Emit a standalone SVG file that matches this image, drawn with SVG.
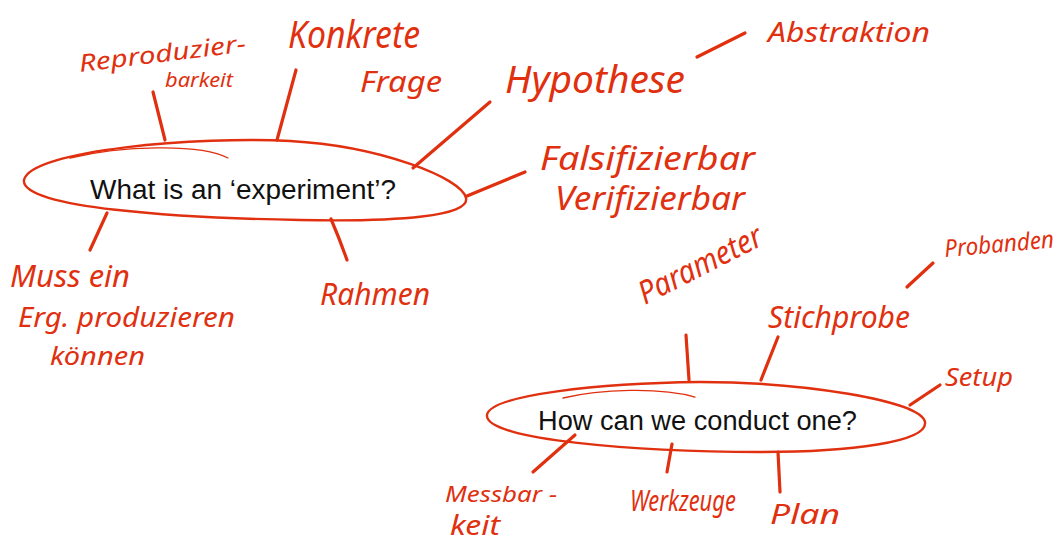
<svg xmlns="http://www.w3.org/2000/svg" width="1061" height="542" viewBox="0 0 1061 542">
<style>
.bg{fill:#ffffff}
.shape{fill:none;stroke:#e0300f;stroke-width:2.4;stroke-linecap:round}
.thin{fill:none;stroke:#e0300f;stroke-width:1.3;stroke-linecap:round}
.conn{fill:none;stroke:#e0300f;stroke-width:3.2;stroke-linecap:round}
.node{font-family:"Liberation Sans","DejaVu Sans",sans-serif;fill:#111111}
.hw{font-family:"Noto Sans","Liberation Sans",sans-serif;font-style:italic;fill:#e0300f}
</style>
<rect class="bg" x="0" y="0" width="1061" height="542"/>
<g id="connectors">
<path class="conn" d="M153 92 L165 140"/>
<path class="conn" d="M296 70 L277 140"/>
<path class="conn" d="M490 102 L413 168"/>
<path class="conn" d="M525 172 L467 196"/>
<path class="conn" d="M697 57 L745 33"/>
<path class="conn" d="M107 213 L90 250"/>
<path class="conn" d="M331 219 Q340 240 347 260"/>
<path class="conn" d="M686 335 L689 380"/>
<path class="conn" d="M778 337 L761 380"/>
<path class="conn" d="M907 287 L933 263"/>
<path class="conn" d="M910 405 L940 385"/>
<path class="conn" d="M575 435 L533 472"/>
<path class="conn" d="M672 444 L667 472"/>
<path class="conn" d="M778 452 L780 492"/>
</g>
<g id="node-experiment">
<path class="shape" d="M24 180 C30 150 200 136 290 141 C380 146 462 178 466 198 C470 216 400 222 300 220 C180 218 20 208 24 180 Z"/>
<path class="thin" d="M70 158 C120 146 200 143 228 158"/>
<text class="node" x="90" y="199" font-size="27" textLength="306" lengthAdjust="spacingAndGlyphs">What is an ‘experiment’?</text>
</g>
<g id="node-conduct">
<path class="shape" d="M487 415 C490 395 600 383 700 382 C800 382 920 400 925 422 C928 442 850 452 760 452 C640 452 484 440 487 415 Z"/>
<path class="thin" d="M563 398 C600 389 660 387 695 397"/>
<text class="node" x="538" y="430" font-size="27" textLength="319" lengthAdjust="spacingAndGlyphs">How can we conduct one?</text>
</g>
<g id="label-reproduzierbarkeit">
<text class="hw" x="80" y="72" font-size="24" textLength="168" lengthAdjust="spacingAndGlyphs" transform="rotate(-7 80 72)">Reproduzier-</text>
<text class="hw" x="165" y="87" font-size="20" textLength="68" lengthAdjust="spacingAndGlyphs">barkeit</text>
</g>
<g id="label-konkrete-frage">
<text class="hw" x="288" y="48" font-size="38" textLength="132" lengthAdjust="spacingAndGlyphs">Konkrete</text>
<text class="hw" x="360" y="92" font-size="29" textLength="82" lengthAdjust="spacingAndGlyphs">Frage</text>
</g>
<g id="label-hypothese">
<text class="hw" x="505" y="93" font-size="38" textLength="180" lengthAdjust="spacingAndGlyphs">Hypothese</text>
</g>
<g id="label-abstraktion">
<text class="hw" x="768" y="42" font-size="28" textLength="162" lengthAdjust="spacingAndGlyphs">Abstraktion</text>
</g>
<g id="label-falsifizierbar">
<text class="hw" x="540" y="170" font-size="32" textLength="215" lengthAdjust="spacingAndGlyphs">Falsifizierbar</text>
<text class="hw" x="555" y="210" font-size="32" textLength="190" lengthAdjust="spacingAndGlyphs">Verifizierbar</text>
</g>
<g id="label-muss">
<text class="hw" x="10" y="287" font-size="30" textLength="120" lengthAdjust="spacingAndGlyphs">Muss ein</text>
<text class="hw" x="18" y="327" font-size="28" textLength="217" lengthAdjust="spacingAndGlyphs">Erg. produzieren</text>
<text class="hw" x="50" y="365" font-size="26" textLength="95" lengthAdjust="spacingAndGlyphs">können</text>
</g>
<g id="label-rahmen">
<text class="hw" x="320" y="305" font-size="30" textLength="110" lengthAdjust="spacingAndGlyphs">Rahmen</text>
</g>
<g id="label-parameter">
<text class="hw" x="645" y="305" font-size="32" textLength="135" lengthAdjust="spacingAndGlyphs" transform="rotate(-27 645 305)">Parameter</text>
</g>
<g id="label-stichprobe">
<text class="hw" x="768" y="328" font-size="30" textLength="142" lengthAdjust="spacingAndGlyphs">Stichprobe</text>
</g>
<g id="label-probanden">
<text class="hw" x="945" y="257" font-size="24" textLength="110" lengthAdjust="spacingAndGlyphs" transform="rotate(-5 945 257)">Probanden</text>
</g>
<g id="label-setup">
<text class="hw" x="945" y="386" font-size="26" textLength="68" lengthAdjust="spacingAndGlyphs">Setup</text>
</g>
<g id="label-messbarkeit">
<text class="hw" x="445" y="502" font-size="22" textLength="112" lengthAdjust="spacingAndGlyphs">Messbar -</text>
<text class="hw" x="450" y="535" font-size="28" textLength="50" lengthAdjust="spacingAndGlyphs">keit</text>
</g>
<g id="label-werkzeuge">
<text class="hw" x="630" y="511" font-size="29" textLength="106" lengthAdjust="spacingAndGlyphs">Werkzeuge</text>
</g>
<g id="label-plan">
<text class="hw" x="770" y="524" font-size="28" textLength="70" lengthAdjust="spacingAndGlyphs">Plan</text>
</g>
</svg>
